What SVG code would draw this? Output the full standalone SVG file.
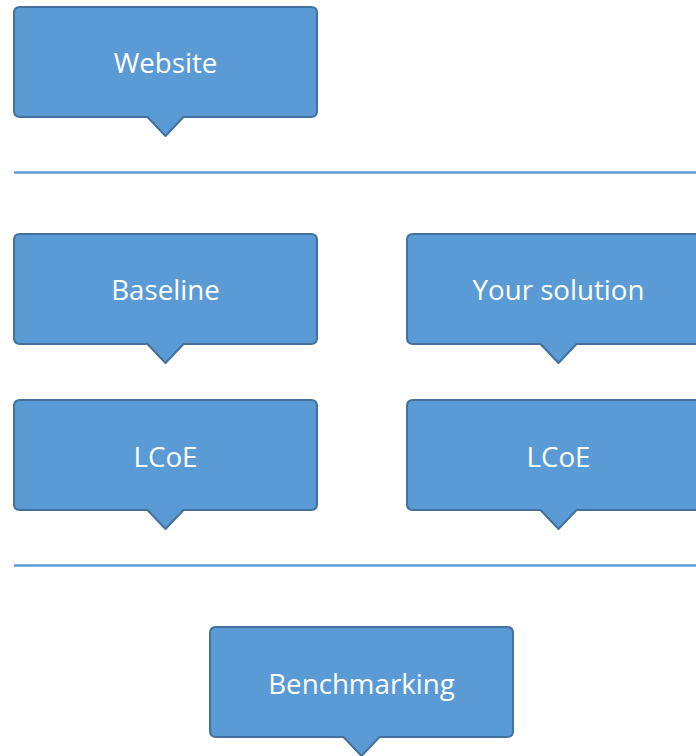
<svg xmlns="http://www.w3.org/2000/svg" xmlns:xlink="http://www.w3.org/1999/xlink" width="696" height="756" viewBox="0 0 696 756">
<style>
.box{fill:#5b9bd5;stroke:#41719c;stroke-width:2;stroke-linejoin:round}
.lbl{font-family:"Open Sans","Noto Sans",sans-serif;font-size:27.7px;fill:#ffffff;text-anchor:middle}
.sep{stroke:#5b9bd5;stroke-width:2.5;fill:none}
</style>
<defs>
<path id="callout" d="M6,0 H297 Q303,0 303,6 V104 Q303,110 297,110 H169.5 L151.5,129 L133.5,110 H6 Q0,110 0,104 V6 Q0,0 6,0 Z"/>
</defs>
<g id="connectors">
<line class="sep" x1="14" y1="172.5" x2="696" y2="172.5"/>
<line class="sep" x1="14" y1="565.5" x2="696" y2="565.5"/>
</g>
<g id="website">
<use xlink:href="#callout" class="box" transform="translate(14,7)"/>
<text class="lbl" x="165.5" y="72.5">Website</text>
</g>
<g id="baseline">
<use xlink:href="#callout" class="box" transform="translate(14,234)"/>
<text class="lbl" x="165.5" y="299.5">Baseline</text>
</g>
<g id="your-solution">
<use xlink:href="#callout" class="box" transform="translate(407,234)"/>
<text class="lbl" x="558.5" y="299.5">Your solution</text>
</g>
<g id="lcoe-baseline">
<use xlink:href="#callout" class="box" transform="translate(14,400)"/>
<text class="lbl" x="165.5" y="466.5">LCoE</text>
</g>
<g id="lcoe-solution">
<use xlink:href="#callout" class="box" transform="translate(407,400)"/>
<text class="lbl" x="558.5" y="466.5">LCoE</text>
</g>
<g id="benchmarking">
<use xlink:href="#callout" class="box" transform="translate(210,627)"/>
<text class="lbl" x="361.5" y="693.5">Benchmarking</text>
</g>
</svg>
